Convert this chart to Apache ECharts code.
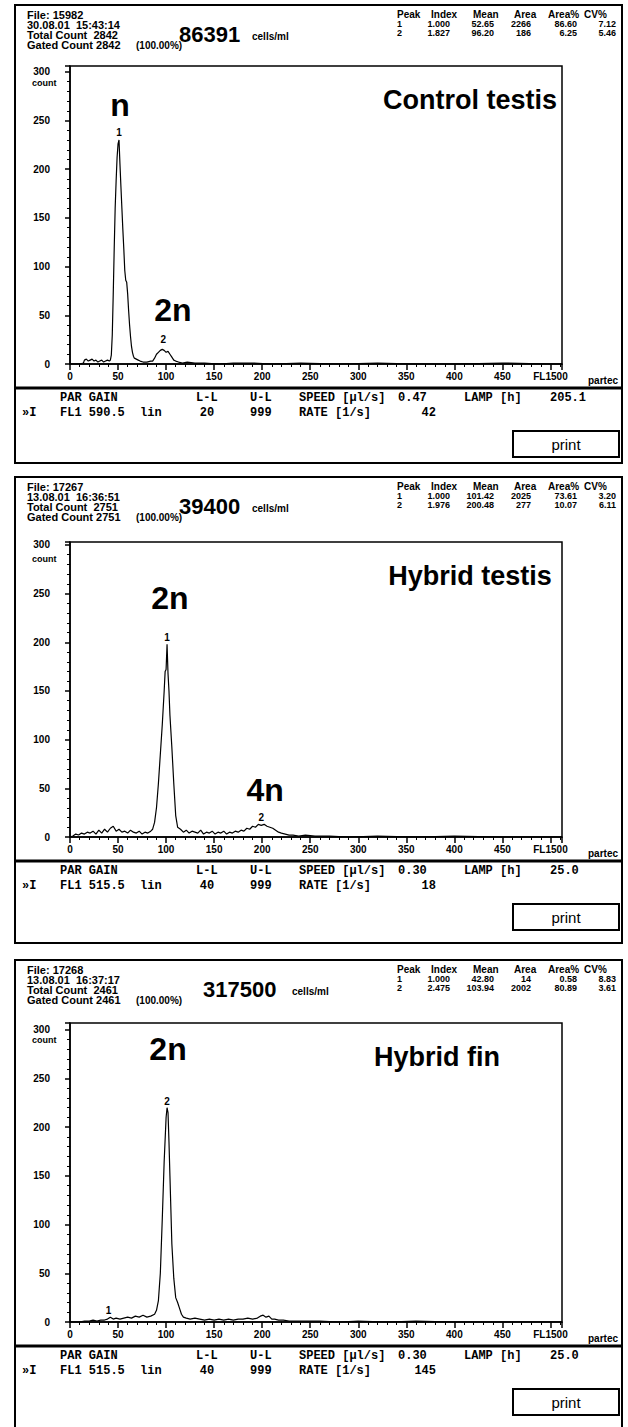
<!DOCTYPE html>
<html>
<head>
<meta charset="utf-8">
<script src="https://cdn.jsdelivr.net/npm/echarts@6/dist/echarts.min.js"></script>
<style>
  html, body { margin: 0; padding: 0; background: #fff; }
  #chart { width: 628px; height: 1427px; }
</style>
</head>
<body>
<div id="chart"></div>
<script>
// --- histogram data ---
var controlChannels = [0, 5, 10, 14, 15, 17, 19, 21, 23, 25, 27, 29, 31, 33, 35, 37, 39, 41, 42, 43,
  44, 45, 46, 47, 48, 49, 50, 51, 52, 53, 54, 55, 56, 57, 58, 59, 60, 61, 62, 63,
  64, 65, 66, 67, 69, 71, 73, 76, 80, 84, 86, 88, 90, 92, 94, 96, 98, 100, 102, 104,
  106, 108, 110, 113, 117, 122, 130, 140, 155, 170, 190, 210, 240, 280, 320, 360, 400, 450, 500, 512];
var controlCounts = [0, 0, 0, 1, 4, 5, 3, 4, 5, 3, 4, 2, 3, 4, 2, 3, 4, 3, 4, 9,
  30, 72, 118, 160, 188, 212, 226, 230, 205, 182, 160, 138, 118, 96, 86, 84, 72, 55, 40, 28,
  18, 12, 8, 6, 5, 4, 3, 2, 2, 3, 3, 6, 10, 12, 14, 15, 14, 12, 13, 10,
  7, 4, 3, 2, 1, 2, 1, 1, 0, 1, 1, 0, 1, 0, 1, 0, 0, 1, 0, 0];

var hybridTestisChannels = [0, 3, 6, 9, 12, 15, 18, 21, 24, 27, 30, 33, 36, 39, 42, 45, 48, 51, 54, 57,
  60, 63, 66, 69, 72, 75, 78, 81, 84, 86, 88, 90, 92, 94, 96, 98, 99, 100, 101, 102,
  103, 104, 106, 108, 110, 112, 115, 118, 121, 124, 127, 130, 133, 136, 139, 142, 145, 148, 151, 154,
  157, 160, 163, 166, 169, 172, 175, 178, 181, 184, 187, 190, 193, 196, 199, 202, 205, 208, 211, 214,
  217, 220, 224, 228, 232, 238, 245, 255, 270, 290, 320, 360, 400, 450, 500, 512];
var hybridTestisCounts = [0, 1, 3, 2, 4, 3, 5, 4, 6, 3, 7, 4, 8, 5, 9, 11, 6, 8, 5, 6,
  4, 7, 5, 4, 6, 3, 5, 4, 6, 8, 15, 30, 55, 85, 115, 150, 170, 172, 198, 168,
  150, 125, 92, 55, 22, 10, 8, 5, 7, 4, 6, 5, 4, 7, 3, 5, 4, 6, 3, 5,
  4, 6, 3, 5, 4, 6, 5, 7, 6, 9, 8, 11, 10, 13, 12, 13, 11, 10, 9, 7,
  5, 4, 3, 2, 2, 1, 2, 1, 1, 0, 1, 0, 1, 0, 0, 0];

var hybridFinChannels = [0, 5, 10, 15, 20, 24, 28, 32, 36, 39, 42, 45, 48, 52, 56, 60, 64, 68, 72, 76,
  80, 84, 88, 90, 92, 94, 96, 98, 100, 101, 102, 103, 104, 105, 106, 108, 110, 112, 114, 116,
  118, 121, 125, 130, 135, 140, 145, 150, 155, 160, 165, 170, 175, 180, 185, 190, 195, 198, 201, 204,
  207, 210, 213, 217, 222, 228, 235, 245, 260, 280, 300, 330, 360, 400, 450, 500, 512];
var hybridFinCounts = [0, 0, 0, 1, 1, 2, 1, 2, 2, 3, 5, 3, 4, 3, 4, 5, 4, 6, 5, 7,
  5, 6, 8, 12, 22, 50, 105, 165, 210, 220, 215, 185, 150, 115, 80, 45, 25, 20, 14, 8,
  5, 4, 3, 4, 3, 2, 3, 2, 3, 2, 3, 2, 3, 3, 4, 3, 4, 6, 7, 5,
  6, 3, 3, 2, 2, 1, 1, 1, 1, 0, 1, 0, 1, 0, 0, 0, 0];

// annotations: [channel, count, text, size]
var controlMarks = [[52, 266, 'n', 32], [107, 55, '2n', 32], [51, 238, '1', 10], [97, 25, '2', 10]];
var hybridTestisMarks = [[104, 245, '2n', 32], [203, 48, '4n', 32], [101, 205, '1', 10], [199, 20, '2', 10]];
var hybridFinMarks = [[102, 280, '2n', 32], [101, 226, '2', 10], [40, 12, '1', 10]];

var panelTitles = ['Control testis', 'Hybrid testis', 'Hybrid fin'];
var fileLines = [
  ['File: 15982', '30.08.01  15:43:14', 'Total Count  2842', 'Gated Count 2842'],
  ['File: 17267', '13.08.01  16:36:51', 'Total Count  2751', 'Gated Count 2751'],
  ['File: 17268', '13.08.01  16:37:17', 'Total Count  2461', 'Gated Count 2461']
];
var cellConc = ['86391', '39400', '317500'];
var peakHeader = ['Peak', 'Index', 'Mean', 'Area', 'Area%', 'CV%'];
var peakRows = [
  [['1', '1.000', '52.65', '2266', '86.60', '7.12'], ['2', '1.827', '96.20', '186', '6.25', '5.46']],
  [['1', '1.000', '101.42', '2025', '73.61', '3.20'], ['2', '1.976', '200.48', '277', '10.07', '6.11']],
  [['1', '1.000', '42.80', '14', '0.58', '8.83'], ['2', '2.475', '103.94', '2002', '80.89', '3.61']]
];
var gains = ['590.5', '515.5', '515.5'];
var lowerLimits = ['20', '40', '40'];
var speeds = ['0.47', '0.30', '0.30'];
var lamps = ['205.1', '25.0', '25.0'];
var rates = ['42', '18', '145'];

var yTicks = [0, 50, 100, 150, 200, 250, 300];
var xTicks = [0, 50, 100, 150, 200, 250, 300, 350, 400, 450, 500];

// --- layout ---
var panelTop = [5, 477, 960];
var plotTop = [66, 542, 1023];
var plotZero = [364, 837, 1322];
var yMax = [306, 303, 307];
var boxBottom = [463, 943, 1440];

function zip(xs, ys) {
  var out = [];
  for (var i = 0; i < xs.length; i++) out.push([xs[i], ys[i]]);
  return out;
}

function txt(x, y, s, font, align, vAlign) {
  return {
    type: 'text', x: x, y: y, silent: true,
    style: {
      text: s, font: font, fill: '#000',
      textAlign: align || 'left', align: align || 'left',
      textVerticalAlign: vAlign || 'middle', verticalAlign: vAlign || 'middle'
    }
  };
}

var sans = 'Liberation Sans';
var mono = 'Liberation Mono';

function panelGraphics(i) {
  var t = panelTop[i];
  var g = [];
  g.push({ type: 'rect', silent: true, shape: { x: 15, y: t, width: 607, height: boxBottom[i] - t },
    style: { fill: 'none', stroke: '#000', lineWidth: 2 } });
  // header left
  for (var k = 0; k < 4; k++) {
    g.push(txt(27, t + 10 + k * 10, fileLines[i][k], 'bold 11px ' + sans));
  }
  g.push(txt(i === 2 ? 203 : 179, t + 29, cellConc[i], 'bold 22px ' + sans));
  g.push(txt(i === 2 ? 292 : 252, t + 31, 'cells/ml', 'bold 10px ' + sans));
  g.push(txt(136, t + 40, '(100.00%)', 'bold 10px ' + sans));
  // header right: peak table
  var colLeft = [397, 431, 473, 514, 548, 584];
  var colRight = [402, 450, 494, 531, 577, 616];
  for (var c = 0; c < peakHeader.length; c++) {
    g.push(txt(colLeft[c], t + 9, peakHeader[c], 'bold 10px ' + sans));
    g.push(txt(colRight[c], t + 19, peakRows[i][0][c], 'bold 9px ' + sans, 'right'));
    g.push(txt(colRight[c], t + 28, peakRows[i][1][c], 'bold 9px ' + sans, 'right'));
  }
  // title
  g.push(txt(i === 2 ? 437 : 470, plotTop[i] + 34, panelTitles[i], 'bold 27px ' + sans, 'center'));
  // axis extras
  g.push(txt(32, plotTop[i] + 17, 'count', 'bold 9px ' + sans));
  g.push(txt(603, plotZero[i] + 16, 'partec', 'bold 10px ' + sans, 'center'));
  // separator and instrument settings
  var s = plotZero[i] + 24;
  g.push({ type: 'line', silent: true, shape: { x1: 15, y1: s, x2: 622, y2: s },
    style: { stroke: '#000', lineWidth: 3 } });
  var r1 = s + 10, r2 = s + 25;
  var f = 'bold 12px ' + mono;
  g.push(txt(60, r1, 'PAR GAIN', f));
  g.push(txt(196, r1, 'L-L', f));
  g.push(txt(250, r1, 'U-L', f));
  g.push(txt(299, r1, 'SPEED [\u00b5l/s]', f));
  g.push(txt(398, r1, speeds[i], f));
  g.push(txt(464, r1, 'LAMP [h]', f));
  g.push(txt(550, r1, lamps[i], f));
  g.push(txt(22, r2, '\u00bbI', f));
  g.push(txt(60, r2, 'FL1 ' + gains[i], f));
  g.push(txt(140, r2, 'lin', f));
  g.push(txt(207, r2, lowerLimits[i], f, 'center'));
  g.push(txt(250, r2, '999', f));
  g.push(txt(299, r2, 'RATE [1/s]', f));
  g.push(txt(436, r2, rates[i], f, 'right'));
  // print button
  var pb = s + 43;
  g.push({ type: 'rect', silent: true, shape: { x: 513, y: pb, width: 106, height: 26 },
    style: { fill: '#fff', stroke: '#000', lineWidth: 2 } });
  g.push(txt(566, pb + 13, 'print', '15px ' + sans, 'center'));
  return g;
}

function makeMarks(marks) {
  return marks.map(function (m) {
    return {
      coord: [m[0], m[1]],
      label: {
        show: true, position: 'inside', formatter: m[2], color: '#000',
        fontSize: m[3], fontWeight: 'bold', fontFamily: sans
      }
    };
  });
}

var seriesData = [zip(controlChannels, controlCounts), zip(hybridTestisChannels, hybridTestisCounts), zip(hybridFinChannels, hybridFinCounts)];
var seriesMarks = [controlMarks, hybridTestisMarks, hybridFinMarks];

var grids = [], xAxes = [], yAxes = [], series = [], graphics = [];
for (var i = 0; i < 3; i++) {
  grids.push({ left: 70, top: plotTop[i], width: 492, height: plotZero[i] - plotTop[i],
    show: true, borderColor: '#000', borderWidth: 1.5 });
  xAxes.push({
    gridIndex: i, type: 'value', min: 0, max: 512, interval: 50,
    axisLine: { show: true, onZero: false, lineStyle: { color: '#000', width: 1.5 } },
    axisTick: { show: true, length: 6, lineStyle: { color: '#000', width: 1.5 } },
    minorTick: { show: true, splitNumber: 5, length: 3, lineStyle: { color: '#000' } },
    splitLine: { show: false },
    axisLabel: {
      margin: 7, color: '#000', fontSize: 10, fontWeight: 'bold', fontFamily: sans,
      showMaxLabel: false,
      formatter: function (v) {
        if (v === 500) return 'FL1500';
        return xTicks.indexOf(v) >= 0 ? String(v) : '';
      }
    }
  });
  yAxes.push({
    gridIndex: i, type: 'value', min: 0, max: yMax[i], interval: 50,
    axisLine: { show: true, lineStyle: { color: '#000', width: 1.5 } },
    axisTick: { show: true, length: 5, lineStyle: { color: '#000', width: 1.5 } },
    minorTick: { show: true, splitNumber: 5, length: 3, lineStyle: { color: '#000' } },
    splitLine: { show: false },
    axisLabel: {
      margin: 20, color: '#000', fontSize: 10, fontWeight: 'bold', fontFamily: sans,
      showMaxLabel: false,
      formatter: function (v) { return yTicks.indexOf(v) >= 0 ? String(v) : ''; }
    }
  });
  series.push({
    type: 'line', xAxisIndex: i, yAxisIndex: i, data: seriesData[i],
    symbol: 'none', lineStyle: { color: '#000', width: 1.2 },
    markPoint: {
      symbol: 'circle', symbolSize: 1, itemStyle: { color: 'rgba(0,0,0,0)' },
      data: makeMarks(seriesMarks[i])
    }
  });
  graphics = graphics.concat(panelGraphics(i));
}

var myChart = echarts.init(document.getElementById('chart'), null, { renderer: 'svg' });
myChart.setOption({
  animation: false,
  backgroundColor: '#fff',
  grid: grids,
  xAxis: xAxes,
  yAxis: yAxes,
  series: series,
  graphic: graphics
});
</script>
</body>
</html>
